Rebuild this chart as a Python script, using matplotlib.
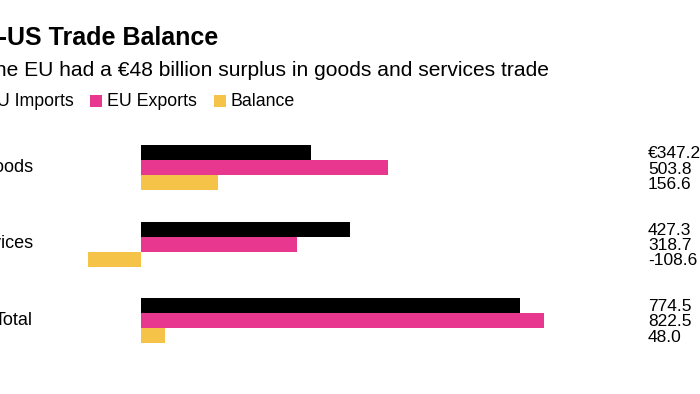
import matplotlib.pyplot as plt
from matplotlib.patches import Rectangle

categories = ['Goods', 'Services', 'Total']
eu_imports = [347.2, 427.3, 774.5]
eu_exports = [503.8, 318.7, 822.5]
balance = [156.6, -108.6, 48.0]
series_names = ['EU Imports', 'EU Exports', 'Balance']

BLACK = '#000000'
PINK = '#e8378f'
YELLOW = '#f5c347'
FONT = ['Liberation Sans', 'DejaVu Sans']

W, H = 700, 394


def main():
    plt.rcParams['font.family'] = FONT
    fig = plt.figure(figsize=(W / 100, H / 100), dpi=100)
    ax = fig.add_axes([0, 0, 1, 1])
    ax.axis('off')

    # scale: 0 at x=141px, ~0.49 px per billion
    px = 0.4897
    ax.set_xlim(-141 / px, (W - 141) / px)
    ax.set_ylim((H - 167.5) / 76.5, -167.5 / 76.5)

    h = 15 / 76.5
    ys = range(len(categories))
    series = [eu_imports, eu_exports, balance]
    cols = [BLACK, PINK, YELLOW]
    for k, (vals, c) in enumerate(zip(series, cols)):
        ax.barh([y + (k - 1) * h for y in ys], vals, height=h, color=c, linewidth=0)

    tr = ax.get_yaxis_transform()
    for i, cat in enumerate(categories):
        ax.text(33 / W, i, cat, transform=tr, ha='right', va='center', fontsize=13)
        for k, vals in enumerate(series):
            lab = f'{vals[i]:.1f}'
            if i == 0 and k == 0:
                lab = '€' + lab
            ax.text(648 / W, i + 1.5 / 76.5 + (k - 1) * h * 1.03, lab, transform=tr,
                    ha='left', va='center', fontsize=12.5)

    # header text (left part is cut off in the original image)
    fig.text(218 / W, 1 - 38 / H, 'EU-US Trade Balance', ha='right', va='center',
             fontsize=18, fontweight='bold')
    fig.text(549 / W, 1 - 71 / H, 'The EU had a €48 billion surplus in goods and services trade',
             ha='right', va='center', fontsize=15.1)

    # legend
    ly = 1 - 101 / H
    fig.text(74 / W, ly, 'EU Imports', ha='right', va='center', fontsize=12.8)
    for x0, name, c in [(90, series_names[1], PINK), (214, series_names[2], YELLOW)]:
        fig.add_artist(Rectangle((x0 / W, 1 - 107 / H), 12 / W, 12 / H,
                                 transform=fig.transFigure, color=c, linewidth=0))
        fig.text((x0 + 17) / W, ly, name, ha='left', va='center', fontsize=12.8)

    fig.savefig('out.png', dpi=100)


if __name__ == '__main__':
    main()
